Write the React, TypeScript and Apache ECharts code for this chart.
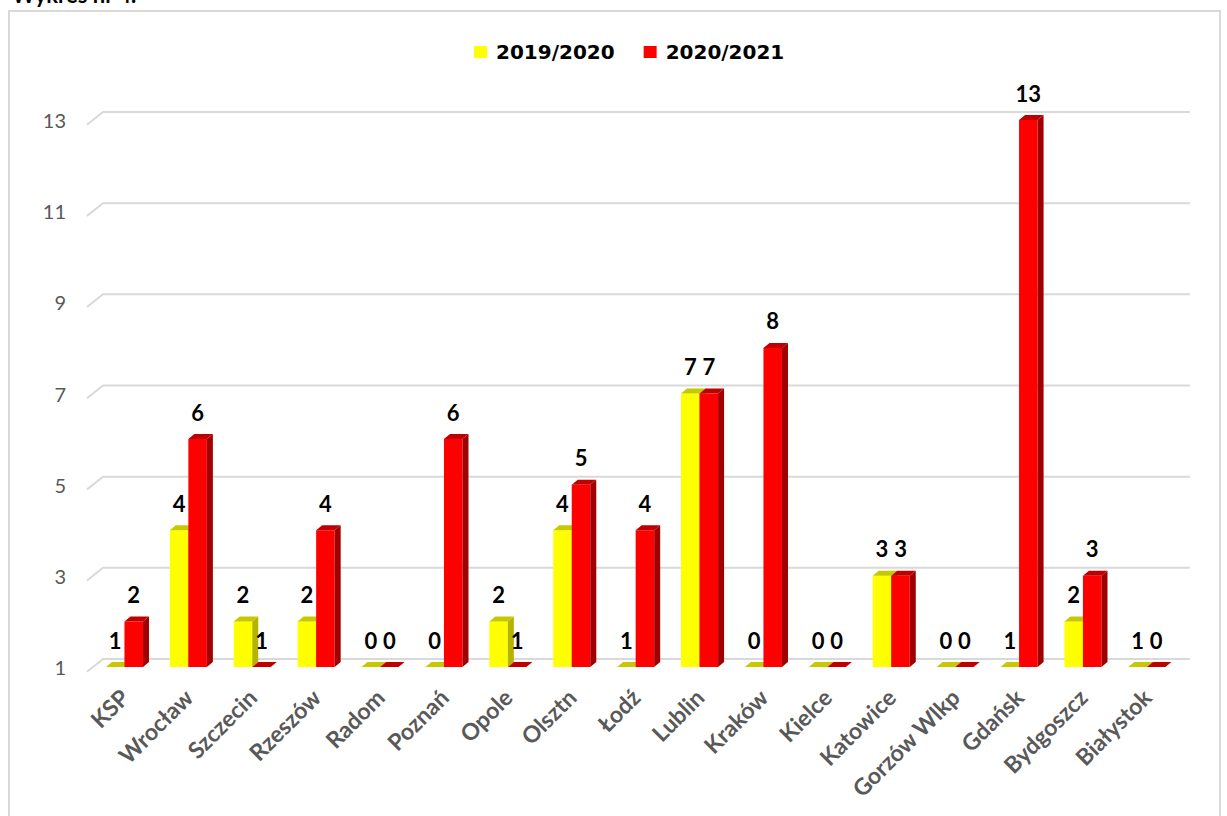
import React, { useEffect, useRef } from 'react';
import * as echarts from 'echarts';

const categories = ['KSP', 'Wrocław', 'Szczecin', 'Rzeszów', 'Radom', 'Poznań', 'Opole', 'Olsztn', 'Łodź', 'Lublin', 'Kraków', 'Kielce', 'Katowice', 'Gorzów Wlkp', 'Gdańsk', 'Bydgoszcz', 'Białystok'];
const season1Name = '2019/2020';
const season2Name = '2020/2021';
const season1 = [1, 4, 2, 2, 0, 0, 2, 4, 1, 7, 0, 0, 3, 0, 1, 2, 1];
const season2 = [2, 6, 1, 4, 0, 6, 1, 5, 4, 7, 8, 0, 3, 0, 13, 3, 0];
const yTicks = [1, 3, 5, 7, 9, 11, 13];

const Y_MIN = yTicks[0];
const Y_MAX = yTicks[yTicks.length - 1];
const BAR_RATIO = 0.29;
const DEPTH_X = 6;
const DEPTH_Y = 5;

type Palette = { front: string; side: string; top: string };
const yellow: Palette = { front: '#FFFF00', side: '#B4B400', top: '#C8C800' };
const red: Palette = { front: '#FF0000', side: '#A00000', top: '#C00000' };

function makeBarRender(placement: 'left' | 'right', pal: Palette, zBase: number) {
  return (params: any, api: any) => {
    const idx = api.value(0);
    const val = api.value(1);
    const base = api.coord([idx, Y_MIN]);
    const top = api.coord([idx, Math.max(val, Y_MIN)]);
    const bw = api.size([1, 0])[0] * BAR_RATIO;
    const x0 = placement === 'left' ? base[0] - bw : base[0];
    const x1 = x0 + bw;
    const yb = base[1];
    const yt = top[1];
    const children: any[] = [];
    if (yb - yt > 0.5) {
      children.push({
        type: 'rect',
        z2: zBase,
        shape: { x: x0, y: yt, width: bw, height: yb - yt },
        style: { fill: pal.front },
      });
      children.push({
        type: 'polygon',
        z2: zBase,
        shape: { points: [[x1, yt], [x1 + DEPTH_X, yt - DEPTH_Y], [x1 + DEPTH_X, yb - DEPTH_Y], [x1, yb]] },
        style: { fill: pal.side },
      });
    }
    children.push({
      type: 'polygon',
      z2: zBase,
      shape: { points: [[x0, yt], [x0 + DEPTH_X, yt - DEPTH_Y], [x1 + DEPTH_X, yt - DEPTH_Y], [x1, yt]] },
      style: { fill: pal.top },
    });
    children.push({
      type: 'text',
      z2: 50,
      style: {
        text: String(val),
        x: (x0 + x1) / 2,
        y: yt - 27,
        align: 'center',
        verticalAlign: 'middle',
        fill: '#000000',
        font: 'bold 22px Lato',
      },
    });
    return { type: 'group', children };
  };
}

export default function App() {
  const ref = useRef<HTMLDivElement>(null);

  useEffect(() => {
    if (!ref.current) return;
    const chart = echarts.init(ref.current, null, { renderer: 'svg' });
    const option: any = {
      animation: false,
      backgroundColor: '#ffffff',
      legend: {
        data: [season1Name, season2Name],
        left: 469,
        top: 37,
        icon: 'rect',
        itemWidth: 13,
        itemHeight: 12,
        itemGap: 29,
        textStyle: {
          fontFamily: 'DejaVu Sans',
          fontWeight: 'bold',
          fontSize: 20,
          color: '#000000',
          padding: [0, 0, 0, 4],
        },
      },
      grid: { left: 92.5, top: 120, width: 1086.3, height: 547 },
      xAxis: {
        type: 'category',
        data: categories,
        axisLine: { show: false },
        axisTick: { show: false },
        splitLine: { show: false },
        axisLabel: {
          interval: 0,
          rotate: 45,
          margin: 26,
          color: '#595959',
          fontFamily: 'Lato',
          fontWeight: 'bold',
          fontSize: 23,
        },
      },
      yAxis: {
        type: 'value',
        min: Y_MIN,
        max: Y_MAX,
        interval: 2,
        axisLine: { show: false },
        axisTick: { show: false },
        splitLine: { show: false },
        axisLabel: {
          margin: 26.5,
          color: '#595959',
          fontFamily: 'Lato',
          fontSize: 20,
          padding: [9, 0, 0, 0],
        },
      },
      graphic: [
        {
          type: 'rect',
          silent: true,
          shape: { x: 9, y: 11, width: 1211, height: 830 },
          style: { fill: 'none', stroke: '#D9D9D9', lineWidth: 2 },
        },
        {
          type: 'text',
          silent: true,
          style: {
            text: 'Wykres nr 4.',
            x: 12,
            y: 5,
            verticalAlign: 'bottom',
            fill: '#000000',
            font: 'bold 22px Lato',
          },
        },
      ],
      series: [
        {
          type: 'custom',
          name: 'grid',
          z: 1,
          silent: true,
          data: yTicks.map((v) => [0, v]),
          renderItem: (params: any, api: any) => {
            const cs = params.coordSys;
            const p = api.coord([0, api.value(1)]);
            const y = p[1];
            return {
              type: 'polyline',
              shape: {
                points: [
                  [cs.x - 5.5, y + 4.7],
                  [cs.x + 10.5, y - 8],
                  [cs.x + cs.width + 11, y - 8],
                ],
              },
              style: { stroke: '#D9D9D9', lineWidth: 2, fill: null },
            };
          },
        },
        {
          type: 'custom',
          name: season1Name,
          z: 2,
          itemStyle: { color: yellow.front },
          data: season1.map((v, i) => [i, v]),
          renderItem: makeBarRender('left', yellow, 1),
        },
        {
          type: 'custom',
          name: season2Name,
          z: 2,
          itemStyle: { color: red.front },
          data: season2.map((v, i) => [i, v]),
          renderItem: makeBarRender('right', red, 2),
        },
      ],
    };
    chart.setOption(option);
    return () => chart.dispose();
  }, []);

  return (
    <div
      ref={ref}
      style={{ position: 'absolute', left: 0, top: 0, width: 1227, height: 816, background: '#fff' }}
    />
  );
}
